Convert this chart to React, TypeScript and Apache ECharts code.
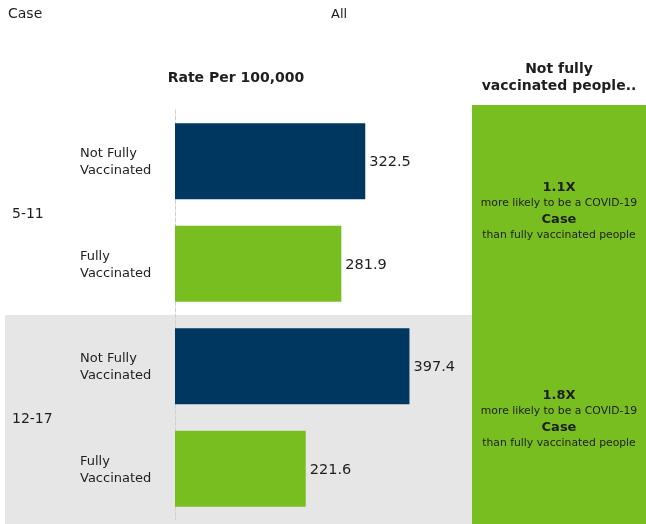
import React, { useEffect, useRef } from "react";
import * as echarts from "echarts";

const groups = ["5-11", "12-17"];
const subLabels = ["Not Fully\nVaccinated", "Fully\nVaccinated", "Not Fully\nVaccinated", "Fully\nVaccinated"];
const statuses = ["Not Fully Vaccinated", "Fully Vaccinated", "Not Fully Vaccinated", "Fully Vaccinated"];
const rates = [322.5, 281.9, 397.4, 221.6];
const ratios = ["1.1X", "1.8X"];
const measure = "Case";

const NAVY = "#003761";
const GREEN = "#78be20";
const GRAY = "#e6e6e6";
const FONT = "DejaVu Sans";
const TXT = "#1e1e1e";

export default function App() {
  const ref = useRef<HTMLDivElement>(null);
  useEffect(() => {
    if (!ref.current) return;
    const chart = echarts.init(ref.current, null, { renderer: "svg" });
    chart.setOption({
      animation: false,
      textStyle: { fontFamily: FONT },
      grid: [
        { left: 175, top: 110, width: 295, bottom: 4 },
        { left: 5, top: 106, width: 467, bottom: 0 },
        { left: 472, top: 105, right: 0, bottom: 0 },
      ],
      xAxis: [
        { gridIndex: 0, type: "value", min: 0, max: 500, show: false },
        { gridIndex: 1, type: "value", min: 0, max: 1, show: false },
        { gridIndex: 2, type: "value", min: 0, max: 1, show: false },
      ],
      yAxis: [
        {
          gridIndex: 0,
          type: "category",
          data: subLabels,
          inverse: true,
          axisLine: { show: true, lineStyle: { color: "#d0d0d0", type: "dashed", width: 1 } },
          axisTick: { show: false },
          axisLabel: {
            align: "left",
            margin: 95,
            fontSize: 13,
            lineHeight: 17,
            color: TXT,
            fontFamily: FONT,
          },
          z: 1,
        },
        {
          gridIndex: 0,
          type: "category",
          data: groups,
          inverse: true,
          position: "left",
          axisLine: { show: false },
          axisTick: { show: false },
          axisLabel: { align: "left", margin: 163, fontSize: 14, color: TXT, fontFamily: FONT },
        },
        {
          gridIndex: 1,
          type: "category",
          data: groups,
          inverse: true,
          axisLine: { show: false },
          axisTick: { show: false },
          axisLabel: { show: false },
          splitArea: { show: true, areaStyle: { color: ["rgba(0,0,0,0)", GRAY] } },
          z: 0,
        },
        {
          gridIndex: 2,
          type: "category",
          data: groups,
          inverse: true,
          show: false,
        },
      ],
      series: [
        {
          type: "bar",
          xAxisIndex: 0,
          yAxisIndex: 0,
          barWidth: 76,
          data: rates.map((v, i) => ({
            value: v,
            itemStyle: { color: statuses[i] === "Fully Vaccinated" ? GREEN : NAVY },
          })),
          label: {
            show: true,
            position: "right",
            distance: 4,
            fontSize: 14.5,
            color: TXT,
            fontFamily: FONT,
            formatter: (p: any) => p.value.toFixed(1),
          },
          silent: true,
          z: 3,
        },
        {
          type: "bar",
          xAxisIndex: 2,
          yAxisIndex: 3,
          barWidth: "102%",
          barCategoryGap: 0,
          data: ratios.map(() => 1),
          itemStyle: { color: GREEN },
          label: {
            show: true,
            position: "inside",
            color: TXT,
            fontFamily: FONT,
            formatter: (p: any) =>
              `{b|${ratios[p.dataIndex]}}\n{n|more likely to be a COVID-19}\n{b|${measure}}\n{n|than fully vaccinated people}`,
            rich: {
              b: { fontSize: 13, fontWeight: "bold", lineHeight: 16, color: TXT, fontFamily: FONT },
              n: { fontSize: 10.8, lineHeight: 16, color: TXT, fontFamily: FONT },
            },
          },
          silent: true,
        },
      ],
      graphic: [
        { type: "text", x: 8, y: 13, style: { text: "Case", font: `14px '${FONT}'`, fill: TXT, align: "left", verticalAlign: "middle" } },
        { type: "text", x: 331, y: 13, style: { text: "All", font: `13px '${FONT}'`, fill: TXT, align: "left", verticalAlign: "middle" } },
        { type: "text", x: 236, y: 77, style: { text: "Rate Per 100,000", font: `bold 14px '${FONT}'`, fill: TXT, align: "center", verticalAlign: "middle" } },
        {
          type: "text",
          x: 559,
          y: 76,
          style: {
            text: "Not fully\nvaccinated people..",
            font: `bold 14px '${FONT}'`,
            lineHeight: 17,
            fill: TXT,
            align: "center",
            verticalAlign: "middle",
          },
        },
      ],
    });
    return () => chart.dispose();
  }, []);
  return <div ref={ref} style={{ position: "fixed", left: 0, top: 0, width: 646, height: 524 }} />;
}
